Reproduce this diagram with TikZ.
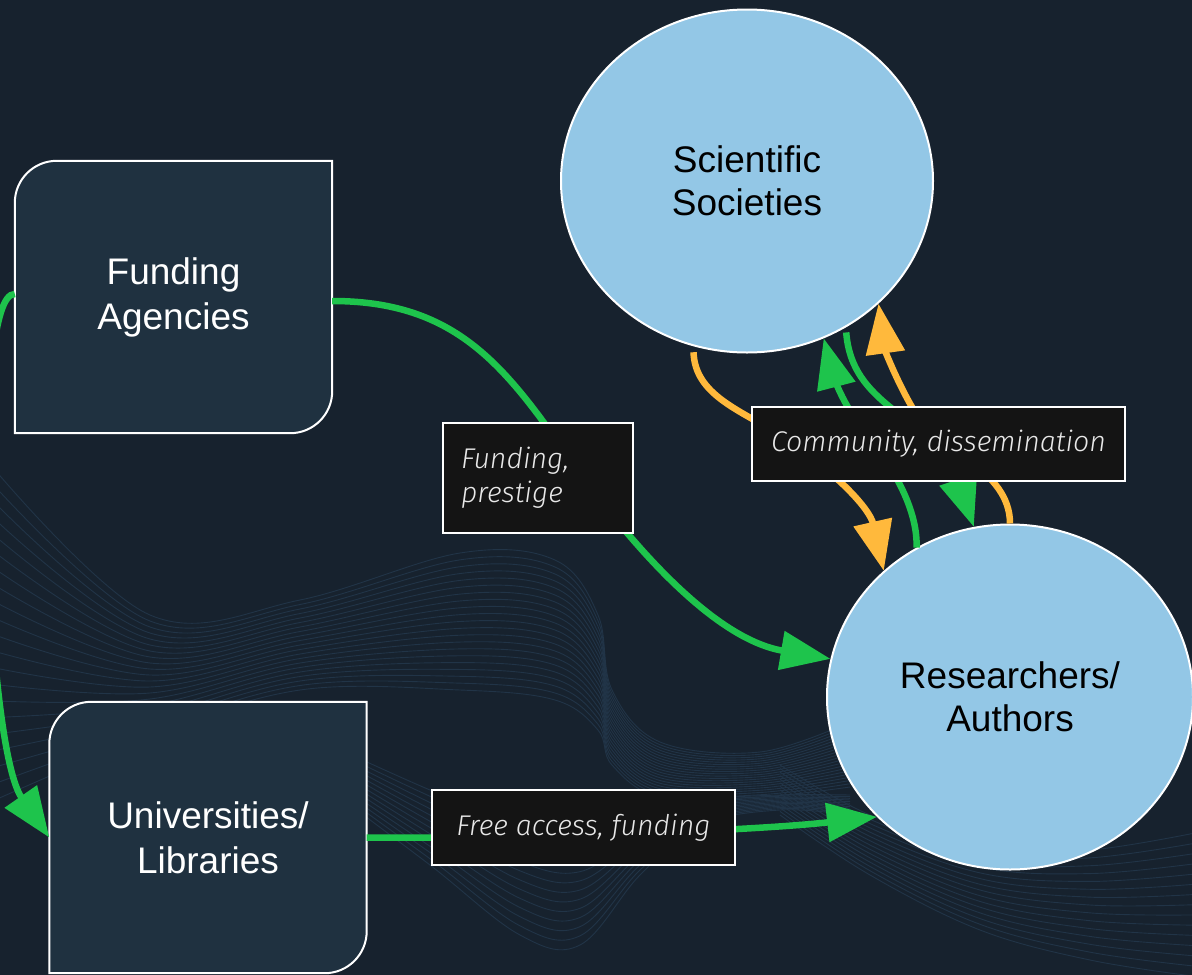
\documentclass[tikz,border=0pt]{standalone}
\usepackage{fontspec}
\setmainfont{Liberation Sans}
\newfontfamily\lblfont{Fira Sans Light Italic}
\usetikzlibrary{shapes.geometric,arrows.meta,calc}
\pgfdeclarelayer{back}
\pgfsetlayers{back,main}
\definecolor{bgc}{HTML}{17222E}
\definecolor{panelc}{HTML}{1F3140}
\definecolor{orbc}{HTML}{93C7E6}
\definecolor{greenc}{HTML}{1EC44C}
\definecolor{orangec}{HTML}{FFB93C}
\definecolor{lblc}{HTML}{141414}
\definecolor{lbltext}{HTML}{E8E8E8}
\definecolor{wavec}{HTML}{213447}
\begin{document}
\begin{tikzpicture}[x=1pt,y=-1pt,
  panel/.style={rectangle, minimum width=317pt, minimum height=272pt, inner sep=0pt, text=white, align=center, font=\fontsize{37}{45}\selectfont},
  panelline/.style={draw=white, line width=2pt, fill=panelc},
  orb/.style={ellipse, fill=orbc, draw=white, line width=2pt, inner sep=0pt, text=black, align=center, font=\fontsize{37}{43}\selectfont},
  lbl/.style={rectangle, draw=white, line width=2pt, fill=lblc, inner xsep=18pt, inner ysep=0pt, text=lbltext, font=\lblfont\fontsize{28.5}{34}\selectfont},
  flow/.style={line width=6.5pt, -{Triangle[length=50pt,width=38pt]}},
  gflow/.style={flow, draw=greenc},
  oflow/.style={flow, draw=orangec},
  wave/.style={draw=wavec, line width=0.9pt}
]
\useasboundingbox (0,0) rectangle (1192,975);

% nodes
\node[panel] (fa) at (173.5,297) {Funding\\Agencies};
\node[panel, minimum height=271pt] (un) at (208,837.5) {Universities/\\Libraries};
\node[orb, minimum width=372pt, minimum height=343pt] (ss) at (747,181) {Scientific\\Societies};
\node[orb, minimum width=366pt, minimum height=345pt] (ra) at (1010,697) {Researchers/\\Authors};

% background, waves, panel shapes
\begin{pgfonlayer}{back}
\fill[bgc] (0,0) rectangle (1192,975);
% crest family
\foreach \i in {0,...,20}{
  \pgfmathsetmacro\t{\i/20}
  \draw[wave] plot[smooth, tension=0.6] coordinates {
    (-5,{470+330*\t}) (150,{615+120*\t}) (300,{600+90*\t}) (460,{553+137*\t})
    (555,{560+140*\t}) (598,{615+115*\t}) (612,{690+75*\t}) (660,{742+55*\t})
    (760,{752+45*\t}) (850,{722+65*\t})};
}
% trough family
\foreach \i in {0,...,12}{
  \pgfmathsetmacro\t{\i/12}
  \draw[wave] plot[smooth, tension=0.6] coordinates {
    (330,{745+45*\t}) (430,{790+75*\t}) (520,{825+110*\t}) (580,{835+110*\t})
    (640,{815+60*\t}) (700,{800+25*\t}) (780,{795+15*\t}) (850,{795+20*\t})};
}
% right family
\foreach \i in {0,...,14}{
  \pgfmathsetmacro\t{\i/14}
  \draw[wave] plot[smooth, tension=0.6] coordinates {
    (780,{765+50*\t}) (870,{815+60*\t}) (980,{850+80*\t}) (1090,{850+110*\t}) (1200,{832+145*\t})};
}
\path[panelline] ($(fa.north west)+(0,42)$) .. controls ($(fa.north west)+(0,18.8)$) and ($(fa.north west)+(18.8,0)$) .. ($(fa.north west)+(42,0)$) -- (fa.north east) -- ($(fa.south east)+(0,-42)$) .. controls ($(fa.south east)+(0,-18.8)$) and ($(fa.south east)+(-18.8,0)$) .. ($(fa.south east)+(-42,0)$) -- (fa.south west) -- cycle;
\path[panelline] ($(un.north west)+(0,42)$) .. controls ($(un.north west)+(0,18.8)$) and ($(un.north west)+(18.8,0)$) .. ($(un.north west)+(42,0)$) -- (un.north east) -- ($(un.south east)+(0,-42)$) .. controls ($(un.south east)+(0,-18.8)$) and ($(un.south east)+(-18.8,0)$) .. ($(un.south east)+(-42,0)$) -- (un.south west) -- cycle;
\end{pgfonlayer}

% connectors
\draw[gflow] ($(fa.east)+(0,4)$) .. controls (450,301) and (500,360) .. (560,445) .. controls (640,560) and (720,640) .. (ra.168);
\draw[gflow] (un.east) .. controls (550,839) and (760,830) .. (ra.222.9);
\draw[gflow] ($(fa.west)+(0,-3)$) .. controls (-30,292) and (-15,745) .. (un.west);
\draw[oflow, shorten <=6pt] (ss.252.5) .. controls (695,395) and (740,410) .. (780,435) .. controls (840,475) and (870,510) .. (ra.135.9);
\draw[oflow] (ra.90) .. controls (1010,470) and (940,450) .. (920,420) .. controls (900,390) and (885,350) .. (ss.317);
\draw[gflow] (ra.122.1) .. controls (918,500) and (880,450) .. (860,425) .. controls (840,400) and (832,370) .. (ss.296.7);
\draw[gflow, shorten <=5pt] (ss.304) .. controls (850,380) and (880,400) .. (920,430) .. controls (945,450) and (955,470) .. (ra.102.5);

% labels
\node[lbl, text width=154pt, align=left, minimum height=110pt] (l1) at (538,478) {Funding,\\prestige};
\node[lbl, minimum width=373pt, minimum height=74pt] (l2) at (938.5,444) {Community, dissemination};
\node[lbl, minimum width=303pt, minimum height=75pt] (l3) at (583.5,827.5) {Free access, funding};
\end{tikzpicture}
\end{document}
